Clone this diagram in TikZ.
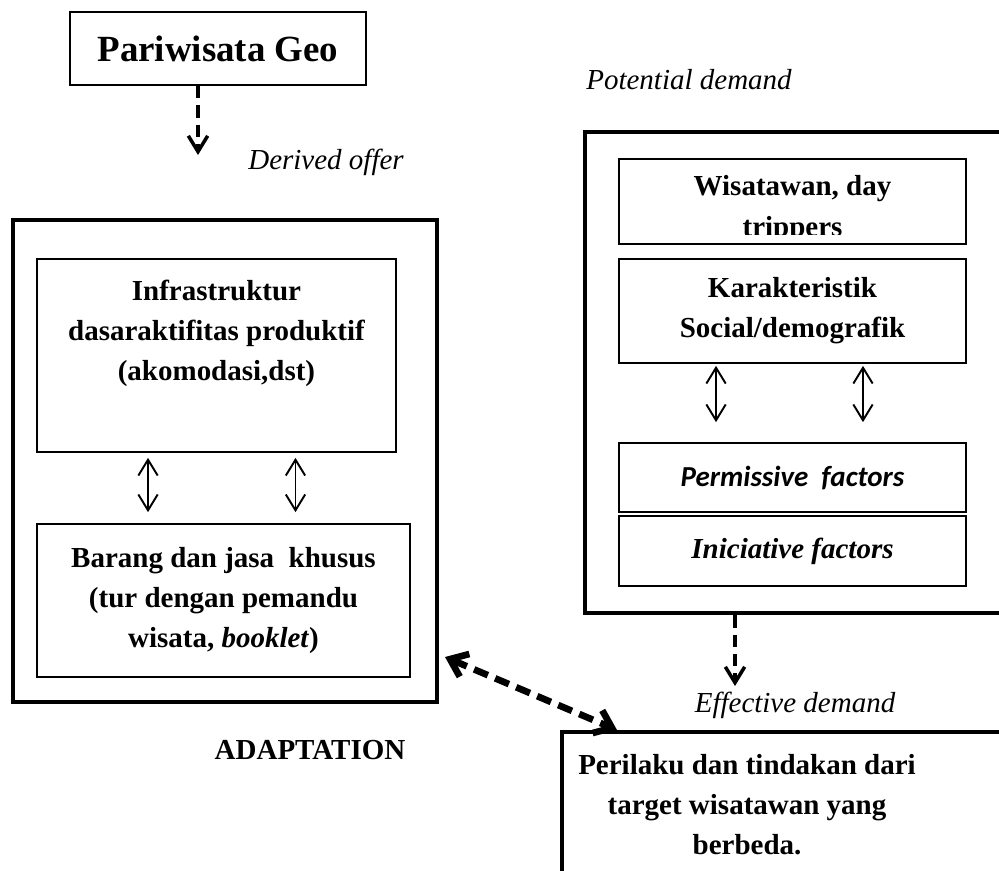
\documentclass[tikz,border=0pt]{standalone}
\usepackage{fontspec}
\setmainfont{Liberation Serif}[BoldFont={Liberation Serif Bold}, ItalicFont={Liberation Serif Italic}, BoldItalicFont={Liberation Serif Bold Italic}]
\newfontfamily\calibfont{Carlito}
\usetikzlibrary{arrows.meta}

\begin{document}
\begin{tikzpicture}[x=0.02cm, y=-0.02cm,
		thinbox/.style={draw, line width=1pt, inner sep=0pt},
		frame/.style={draw, line width=2.7pt, inner sep=0pt},
		boxtext/.style={font=\fontsize{16.5}{22.8}\selectfont\bfseries, align=center},
		note/.style={font=\fontsize{16.5}{20}\selectfont\itshape},
		dblarrow/.style={line width=1.1pt, {Straight Barb[length=9pt,width=11pt]}-{Straight Barb[length=9pt,width=11pt]}},
		dasharrow/.style={line width=2pt, dash pattern=on 7pt off 4pt, -{Straight Barb[length=9pt,width=11pt]}},
		adaptarrow/.style={line width=3.8pt, dash pattern=on 8.5pt off 4.5pt, {Straight Barb[length=9pt,width=14pt]}-{Straight Barb[length=9pt,width=14pt]}}]
		\useasboundingbox (0,0) rectangle (999,870);
		\clip (0,0) rectangle (999,870);
		\draw (218,48.5) node[thinbox, minimum width=5.92cm, minimum height=1.46cm, font=\fontsize{21}{25}\selectfont\bfseries](geo){Pariwisata Geo};
		\draw (225,461) node[frame, minimum width=8.48cm, minimum height=9.64cm](offer){};
		\draw (216.5,355.5) node[thinbox, minimum width=7.18cm, minimum height=3.86cm](infra){};
		\draw (216.5,333) node[boxtext](infratxt){Infrastruktur\\dasaraktifitas produktif\\(akomodasi,dst)};
		\draw (223.5,600.5) node[thinbox, boxtext, minimum width=7.46cm, minimum height=3.06cm](barang){Barang dan jasa~ khusus\\(tur dengan pemandu\\wisata, \textit{booklet})};
		\draw (812.5,372.5) node[frame, minimum width=9.1cm, minimum height=9.62cm](demand){};
		\draw (792.5,201.5) node[thinbox, minimum width=6.94cm, minimum height=1.7cm](wisata){};
		\begin{scope}
			\clip (wisata.north west) rectangle ([yshift=0.2cm]wisata.south east);
			\draw (792.5,209) node[boxtext](wisatatxt){Wisatawan, day\\trippers};
		\end{scope}
		\draw (792.5,311) node[thinbox, boxtext, minimum width=6.94cm, minimum height=2.08cm](karakter){Karakteristik\\Social/demografik};
		\draw (792.5,477.5) node[thinbox, minimum width=6.94cm, minimum height=1.38cm, font=\calibfont\fontsize{16.5}{20}\selectfont\bfseries\itshape](permis){Permissive~ factors};
		\draw (792.5,551) node[thinbox, boxtext, minimum width=6.94cm, minimum height=1.4cm, font=\fontsize{16.5}{20}\selectfont\bfseries\itshape](inisiat){Iniciative factors};
		\draw (801,816) node[frame, minimum width=9.56cm, minimum height=3.36cm](behav){};
		\draw (747,805) node[boxtext](behavtxt){Perilaku dan tindakan dari\\target wisatawan yang\\berbeda.};
		\draw (689,80) node[note](potential){Potential demand};
		\draw (326,162) node[note](derived){Derived offer};
		\draw (795,705) node[note](effective){Effective demand};
		\draw (310,750) node[boxtext](adapt){ADAPTATION};
		\coordinate (geoend) at (198,155);
		\coordinate (effend) at (735,686);
		\coordinate (adaptA) at (445,657);
		\coordinate (adaptB) at (617,730);
		\draw[dasharrow] (geo.south -| geoend) -- (geoend);
		\draw[dasharrow] (demand.south -| effend) -- (effend);
		\draw[dblarrow, shorten <=0.1cm, shorten >=0.22cm] ([xshift=-1.37cm]infra.south) -- ([xshift=-1.37cm]infra.south |- barang.north);
		\draw[dblarrow, shorten <=0.1cm, shorten >=0.22cm] ([xshift=1.58cm]infra.south) -- ([xshift=1.58cm]infra.south |- barang.north);
		\draw[dblarrow, shorten <=0.04cm, shorten >=0.4cm] ([xshift=-1.53cm]karakter.south) -- ([xshift=-1.53cm]karakter.south |- permis.north);
		\draw[dblarrow, shorten <=0.04cm, shorten >=0.4cm] ([xshift=1.41cm]karakter.south) -- ([xshift=1.41cm]karakter.south |- permis.north);
		\draw[adaptarrow] (adaptA) -- (adaptB);
	\end{tikzpicture}
\end{document}
